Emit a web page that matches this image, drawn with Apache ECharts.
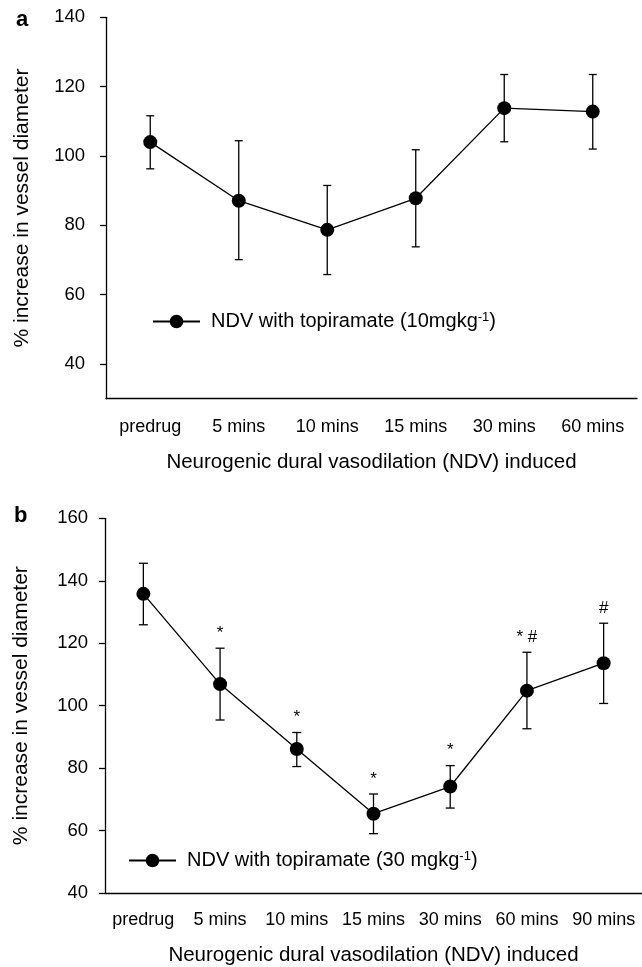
<!DOCTYPE html>
<html><head><meta charset="utf-8">
<script src="https://cdn.jsdelivr.net/npm/echarts@6/dist/echarts.min.js"></script>
<style>html,body{margin:0;padding:0;background:#fff}#c{width:642px;height:967px}</style>
</head><body><div id="c"></div>
<script>
// ---- Panel a data ----
const catsA = ['predrug', '5 mins', '10 mins', '15 mins', '30 mins', '60 mins'];
const meanA = [104.0, 87.1, 78.7, 87.8, 113.8, 112.8];
const lowA  = [96.3, 70.1, 65.8, 73.8, 104.1, 102.0];
const highA = [111.6, 104.4, 91.5, 101.8, 123.5, 123.5];
const yTicksA = [40, 60, 80, 100, 120, 140];
const nameA = 'NDV with topiramate (10mgkg-1)';

// ---- Panel b data ----
const catsB = ['predrug', '5 mins', '10 mins', '15 mins', '30 mins', '60 mins', '90 mins'];
const meanB = [135.8, 106.9, 86.1, 65.4, 74.1, 104.8, 113.6];
const lowB  = [125.9, 95.4, 80.5, 59.0, 67.2, 92.6, 100.7];
const highB = [145.6, 118.4, 91.4, 71.7, 80.8, 117.1, 126.4];
const marksB = ['', '*', '*', '*', '*', '* #', '#'];
const yTicksB = [40, 60, 80, 100, 120, 140, 160];
const nameB = 'NDV with topiramate (30 mgkg-1)';

const xTitle = 'Neurogenic dural vasodilation (NDV) induced';
const yTitle = '% increase in vessel diameter';

const FONT = 'Liberation Sans';
const BLACK = '#000';

function errSeries(ai, lows, highs, cap) {
  return {
    type: 'custom', xAxisIndex: ai, yAxisIndex: ai, silent: true, z: 1,
    data: lows.map((l, i) => [i, l, highs[i]]),
    renderItem: (params, api) => {
      const x = api.value(0);
      const lo = api.coord([x, api.value(1)]);
      const hi = api.coord([x, api.value(2)]);
      const st = { stroke: BLACK, lineWidth: 1.3 };
      return { type: 'group', children: [
        { type: 'line', shape: { x1: lo[0], y1: lo[1], x2: hi[0], y2: hi[1] }, style: st },
        { type: 'line', shape: { x1: lo[0] - cap, y1: lo[1], x2: lo[0] + cap, y2: lo[1] }, style: st },
        { type: 'line', shape: { x1: hi[0] - cap, y1: hi[1], x2: hi[0] + cap, y2: hi[1] }, style: st }
      ]};
    }
  };
}

function lineSeries(ai, name, data) {
  return {
    type: 'line', name: name, xAxisIndex: ai, yAxisIndex: ai, z: 3,
    data: data, symbol: 'circle', symbolSize: 14,
    lineStyle: { color: BLACK, width: 1.3 },
    itemStyle: { color: BLACK },
    emphasis: { disabled: true }, animation: false
  };
}

function supFormatter(n) {
  // turn the trailing "-1)" into a superscript "-1" followed by ")"
  return n.replace('-1)', '{sup|-1}{m|)}');
}

const legendText = {
  fontSize: 20, color: BLACK, fontFamily: FONT, padding: [0, 0, 0, 6],
  rich: {
    sup: { fontSize: 13, verticalAlign: 'top', lineHeight: 13, fontFamily: FONT, color: BLACK },
    m: { fontSize: 20, lineHeight: 21, fontFamily: FONT, color: BLACK }
  }
};

const axisLineStyle = { lineStyle: { color: BLACK, width: 1.3 } };

const option = {
  animation: false,
  backgroundColor: '#fff',
  textStyle: { fontFamily: FONT, color: BLACK },
  graphic: [
    { type: 'text', left: 16, top: 9, style: { text: 'a', font: 'bold 22px ' + FONT, fill: BLACK } },
    { type: 'text', left: 14, top: 505, style: { text: 'b', font: 'bold 22px ' + FONT, fill: BLACK } }
  ],
  legend: [
    { data: [nameA], left: 152, top: 311, padding: 0, itemWidth: 47, itemHeight: 17,
      formatter: supFormatter, textStyle: legendText },
    { data: [nameB], left: 128, top: 850, padding: 0, itemWidth: 47, itemHeight: 17,
      formatter: supFormatter, textStyle: legendText }
  ],
  grid: [
    { left: 106, top: 17.3, width: 531, height: 381.4 },
    { left: 105, top: 518.3, width: 537, height: 375 }
  ],
  xAxis: [
    { type: 'category', gridIndex: 0, data: catsA, boundaryGap: true,
      axisLine: axisLineStyle, axisTick: { alignWithLabel: true, length: 6, lineStyle: { color: BLACK, width: 1.3 } },
      axisLabel: { color: BLACK, fontSize: 18, fontFamily: FONT, margin: 19, interval: 0 },
      name: xTitle, nameLocation: 'middle', nameGap: 53,
      nameTextStyle: { fontSize: 20.5, color: BLACK, fontFamily: FONT } },
    { type: 'category', gridIndex: 1, data: catsB, boundaryGap: true,
      axisLine: axisLineStyle, axisTick: { alignWithLabel: true, length: 6, lineStyle: { color: BLACK, width: 1.3 } },
      axisLabel: { color: BLACK, fontSize: 18, fontFamily: FONT, margin: 18, interval: 0 },
      name: xTitle, nameLocation: 'middle', nameGap: 52,
      nameTextStyle: { fontSize: 20.5, color: BLACK, fontFamily: FONT } }
  ],
  yAxis: [
    { type: 'value', gridIndex: 0, min: 30, max: 140,
      axisLine: { show: true, lineStyle: { color: BLACK, width: 1.3 } },
      axisTick: { show: true, length: 6, customValues: yTicksA, lineStyle: { color: BLACK, width: 1.3 } },
      axisLabel: { color: BLACK, fontSize: 18.5, fontFamily: FONT, margin: 21, customValues: yTicksA },
      splitLine: { show: false },
      name: yTitle, nameLocation: 'middle', nameGap: 73,
      nameTextStyle: { fontSize: 21, color: BLACK, fontFamily: FONT } },
    { type: 'value', gridIndex: 1, min: 40, max: 160, interval: 20,
      axisLine: { show: true, lineStyle: { color: BLACK, width: 1.3 } },
      axisTick: { show: true, length: 6, customValues: yTicksB, lineStyle: { color: BLACK, width: 1.3 } },
      axisLabel: { color: BLACK, fontSize: 18.5, fontFamily: FONT, margin: 17, customValues: yTicksB },
      splitLine: { show: false },
      name: yTitle, nameLocation: 'middle', nameGap: 73,
      nameTextStyle: { fontSize: 21, color: BLACK, fontFamily: FONT } }
  ],
  series: [
    errSeries(0, lowA, highA, 4),
    lineSeries(0, nameA, meanA),
    errSeries(1, lowB, highB, 4.5),
    lineSeries(1, nameB, meanB),
    { type: 'custom', xAxisIndex: 1, yAxisIndex: 1, silent: true, z: 4,
      data: highB.map((h, i) => [i, h]),
      renderItem: (params, api) => {
        const t = marksB[params.dataIndex];
        if (!t) return null;
        const c = api.coord([api.value(0), api.value(1)]);
        return { type: 'text', x: c[0], y: c[1] - 15,
          style: { text: t, font: '17px ' + FONT, fill: BLACK, align: 'center', verticalAlign: 'middle' } };
      } }
  ]
};

const chart = echarts.init(document.getElementById('c'), null, { renderer: 'canvas' });
chart.setOption(option);
</script>
</body></html>
